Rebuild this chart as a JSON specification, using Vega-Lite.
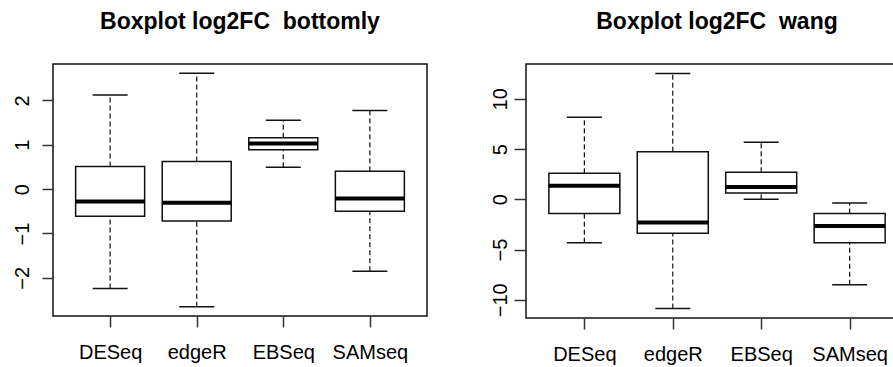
{
  "$schema": "https://vega.github.io/schema/vega-lite/v6.json",
  "padding": {"left": 0, "top": 10, "right": 0, "bottom": 0},
  "background": "white",
  "config": {
    "view": {"stroke": "#111", "strokeWidth": 1.5},
    "font": "Liberation Sans",
    "axis": {"labelFont": "Liberation Sans", "labelFontSize": 20, "labelColor": "#000", "tickColor": "#333", "tickWidth": 1.5, "domain": false, "grid": false, "title": null, "labelFlush": false, "labelOverlap": false},
    "title": {"font": "Liberation Sans", "fontSize": 23, "fontWeight": "bold", "color": "#000", "anchor": "middle", "frame": "group", "baseline": "alphabetic", "offset": 30},
    "tick": {"opacity": 1}
  },
  "data": {"values": [
    {"panel": "bottomly", "method": "DESeq", "lo": -2.24, "q1": -0.61, "med": -0.28, "q3": 0.51, "hi": 2.12},
    {"panel": "bottomly", "method": "edgeR", "lo": -2.65, "q1": -0.72, "med": -0.31, "q3": 0.62, "hi": 2.61},
    {"panel": "bottomly", "method": "EBSeq", "lo": 0.49, "q1": 0.89, "med": 1.03, "q3": 1.16, "hi": 1.55},
    {"panel": "bottomly", "method": "SAMseq", "lo": -1.85, "q1": -0.5, "med": -0.21, "q3": 0.4, "hi": 1.77},
    {"panel": "wang", "method": "DESeq", "lo": -4.33, "q1": -1.42, "med": 1.36, "q3": 2.58, "hi": 8.16},
    {"panel": "wang", "method": "edgeR", "lo": -10.88, "q1": -3.37, "med": -2.31, "q3": 4.73, "hi": 12.53},
    {"panel": "wang", "method": "EBSeq", "lo": 0.0, "q1": 0.63, "med": 1.22, "q3": 2.68, "hi": 5.68},
    {"panel": "wang", "method": "SAMseq", "lo": -8.5, "q1": -4.33, "med": -2.65, "q3": -1.42, "hi": -0.36}
  ]},
  "spacing": 47,
  "hconcat": [
    {
      "title": {"text": "Boxplot log2FC \u00a0bottomly"},
      "width": 374,
      "height": 252,
      "transform": [{"filter": "datum.panel === 'bottomly'"}],
      "encoding": {
        "x": {"field": "method", "type": "nominal", "sort": ["DESeq", "edgeR", "EBSeq", "SAMseq"], "scale": {"type": "point", "padding": 0.66},
              "axis": {"labelAngle": 0, "tickSize": 11, "labelPadding": 31, "labelBaseline": "alphabetic"}}
      },
      "layer": [
        {"mark": {"type": "rule", "strokeDash": [5, 3], "color": "#111", "strokeWidth": 1.2},
         "encoding": {"y": {"field": "lo", "type": "quantitative", "scale": {"domain": [-2.86, 2.82], "nice": false, "zero": false},
                            "axis": {"values": [-2, -1, 0, 1, 2], "labelAngle": -90, "labelAlign": "center", "labelBaseline": "alphabetic", "tickSize": 11, "labelPadding": 14, "minExtent": 52, "maxExtent": 52}},
                      "y2": {"field": "q1"}}},
        {"mark": {"type": "rule", "strokeDash": [5, 3], "color": "#111", "strokeWidth": 1.2},
         "encoding": {"y": {"field": "q3", "type": "quantitative"}, "y2": {"field": "hi"}}},
        {"mark": {"type": "tick", "color": "#111", "size": 35, "thickness": 1.5, "orient": "horizontal", "opacity": 1},
         "encoding": {"y": {"field": "lo", "type": "quantitative"}}},
        {"mark": {"type": "tick", "color": "#111", "size": 35, "thickness": 1.5, "orient": "horizontal", "opacity": 1},
         "encoding": {"y": {"field": "hi", "type": "quantitative"}}},
        {"mark": {"type": "bar", "fill": "white", "stroke": "#111", "strokeWidth": 1.5, "size": 69, "opacity": 1},
         "encoding": {"y": {"field": "q1", "type": "quantitative"}, "y2": {"field": "q3"}}},
        {"mark": {"type": "tick", "color": "#000", "size": 69, "thickness": 4, "orient": "horizontal", "opacity": 1},
         "encoding": {"y": {"field": "med", "type": "quantitative"}}}
      ]
    },
    {
      "title": {"text": "Boxplot log2FC \u00a0wang"},
      "width": 382,
      "height": 254,
      "transform": [{"filter": "datum.panel === 'wang'"}],
      "encoding": {
        "x": {"field": "method", "type": "nominal", "sort": ["DESeq", "edgeR", "EBSeq", "SAMseq"], "scale": {"type": "point", "padding": 0.66},
              "axis": {"labelAngle": 0, "tickSize": 11, "labelPadding": 31, "labelBaseline": "alphabetic"}}
      },
      "layer": [
        {"mark": {"type": "rule", "strokeDash": [5, 3], "color": "#111", "strokeWidth": 1.2},
         "encoding": {"y": {"field": "lo", "type": "quantitative", "scale": {"domain": [-11.82, 13.47], "nice": false, "zero": false},
                            "axis": {"values": [-10, -5, 0, 5, 10], "labelAngle": -90, "labelAlign": "center", "labelBaseline": "alphabetic", "tickSize": 12, "labelPadding": 8, "minExtent": 50, "maxExtent": 50}},
                      "y2": {"field": "q1"}}},
        {"mark": {"type": "rule", "strokeDash": [5, 3], "color": "#111", "strokeWidth": 1.2},
         "encoding": {"y": {"field": "q3", "type": "quantitative"}, "y2": {"field": "hi"}}},
        {"mark": {"type": "tick", "color": "#111", "size": 35, "thickness": 1.5, "orient": "horizontal", "opacity": 1},
         "encoding": {"y": {"field": "lo", "type": "quantitative"}}},
        {"mark": {"type": "tick", "color": "#111", "size": 35, "thickness": 1.5, "orient": "horizontal", "opacity": 1},
         "encoding": {"y": {"field": "hi", "type": "quantitative"}}},
        {"mark": {"type": "bar", "fill": "white", "stroke": "#111", "strokeWidth": 1.5, "size": 71, "opacity": 1},
         "encoding": {"y": {"field": "q1", "type": "quantitative"}, "y2": {"field": "q3"}}},
        {"mark": {"type": "tick", "color": "#000", "size": 71, "thickness": 4, "orient": "horizontal", "opacity": 1},
         "encoding": {"y": {"field": "med", "type": "quantitative"}}}
      ]
    }
  ]
}
